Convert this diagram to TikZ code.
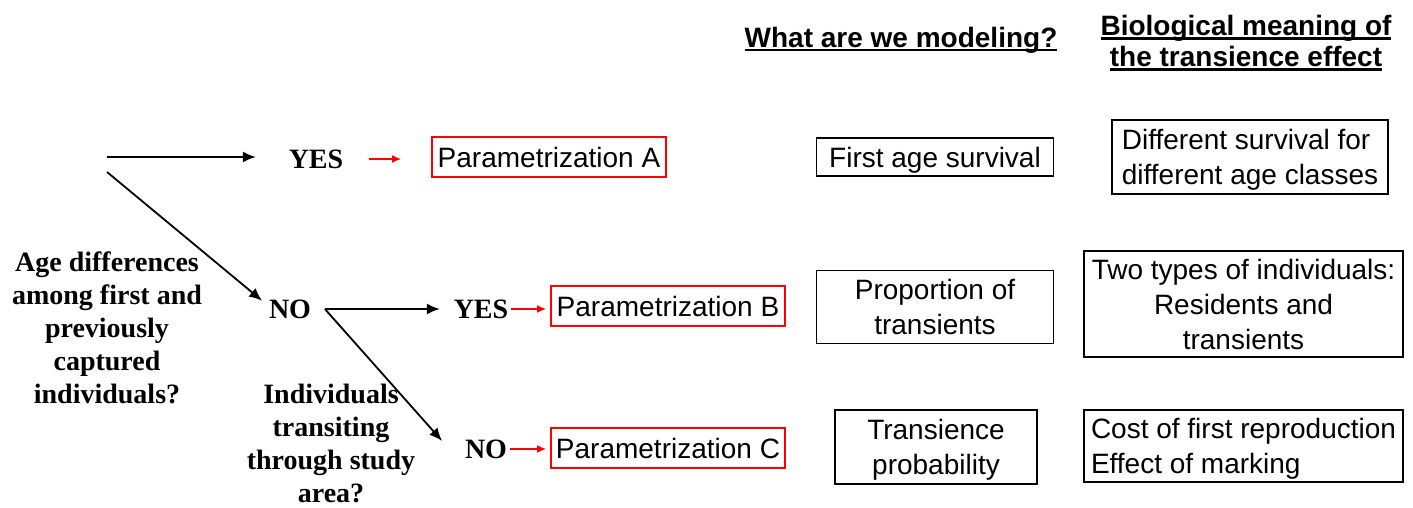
\documentclass[tikz,border=0pt]{standalone}
\usepackage{fontspec}
\setmainfont{Liberation Serif}
\newfontfamily\arial{Liberation Sans}
\usetikzlibrary{arrows.meta}
% underline that sits close to the baseline
\newcommand\headul[1]{\setbox0\hbox{#1}\rlap{\rule[-2pt]{\wd0}{1.1pt}}#1}

\begin{document}
\begin{tikzpicture}[x=0.5pt,y=-0.5pt,>={Latex[length=6.5pt,width=5.5pt]},line width=0.9pt,
  question/.style={font=\bfseries\fontsize{14}{16.5}\selectfont,align=center},
  answer/.style={font=\bfseries\fontsize{14}{16.5}\selectfont,inner sep=1pt},
  param box/.style={draw=red,line width=0.9pt,font=\arial\fontsize{14}{17}\selectfont,
    minimum width=117pt,minimum height=20pt,inner sep=2pt},
  info box/.style={draw,line width=0.9pt,font=\arial\fontsize{14}{17.5}\selectfont,
    inner sep=2pt,text depth=0pt},
  heading/.style={font=\arial\bfseries\fontsize{14}{15.5}\selectfont,align=center},
  red arrow/.style={-{Latex[length=4.5pt,width=4pt]},red,line width=0.75pt}]

  \useasboundingbox (0,0) rectangle (1413,508);

  % headings
  \node[heading] (h1) at (901,40) {\headul{What are we modeling?}};
  \node[heading] (h2) at (1246,43) {\headul{Biological meaning of}\\\headul{the transience effect}};

  % decision tree
  \coordinate (root) at (107,157);
  \coordinate (root2) at (107,172);
  \node[answer] (yes1) at (316,159) {YES};
  \node[answer] (no1) at (290,309) {NO};
  \node[answer] (yes2) at (481,309) {YES};
  \node[answer] (no2) at (486,449) {NO};
  \node[question] (q1) at (107,328) {Age differences\\among first and\\previously\\captured\\individuals?};
  \node[question] (q2) at (331,443) {Individuals\\transiting\\through study\\area?};

  \node[param box] (parA) at (549,157) {Parametrization A};
  \node[param box] (parB) at (668,306) {Parametrization B};
  \node[param box] (parC) at (668,448) {Parametrization C};

  % what are we modeling
  \node[info box,minimum width=118.5pt,minimum height=19pt] (mod1) at (935,157) {First age survival};
  \node[info box,minimum width=118.5pt,minimum height=36.5pt,align=center] (mod2) at (935,307) {Proportion of\\transients};
  \node[info box,minimum width=101pt,minimum height=37pt,align=center] (mod3) at (936,447) {Transience\\probability};

  % biological meaning
  \node[info box,minimum width=138pt,minimum height=37pt,align=left] (bio1) at (1250,157) {Different survival for\\different age classes};
  \node[info box,minimum width=159.5pt,minimum height=53pt,align=center] (bio2) at (1243.5,304) {Two types of individuals:\\Residents and\\transients};
  \node[info box,minimum width=159.5pt,minimum height=36pt,align=left] (bio3) at (1243.5,446) {Cost of first reproduction\\Effect of marking};

  \draw[->,shorten >=15pt] (root) -- (root -| yes1.west);
  \draw[->] (root2) -- ([xshift=-2pt,yshift=-2pt]no1.north west);
  \draw[->,shorten <=5.5pt,shorten >=5.5pt] (no1.east) -- (no1.east -| yes2.west);
  \draw[->] ([xshift=5.5pt]no1.east) -- ([xshift=-10pt,yshift=4pt]no2.west);

  \draw[red arrow,shorten <=11.5pt,shorten >=15pt] (yes1.east) -- (yes1.east -| parA.west);
  \draw[red arrow,shorten >=2pt] (yes2.east) -- (yes2.east -| parB.west);
  \draw[red arrow,shorten >=2pt] (no2.east) -- (no2.east -| parC.west);

\end{tikzpicture}
\end{document}
